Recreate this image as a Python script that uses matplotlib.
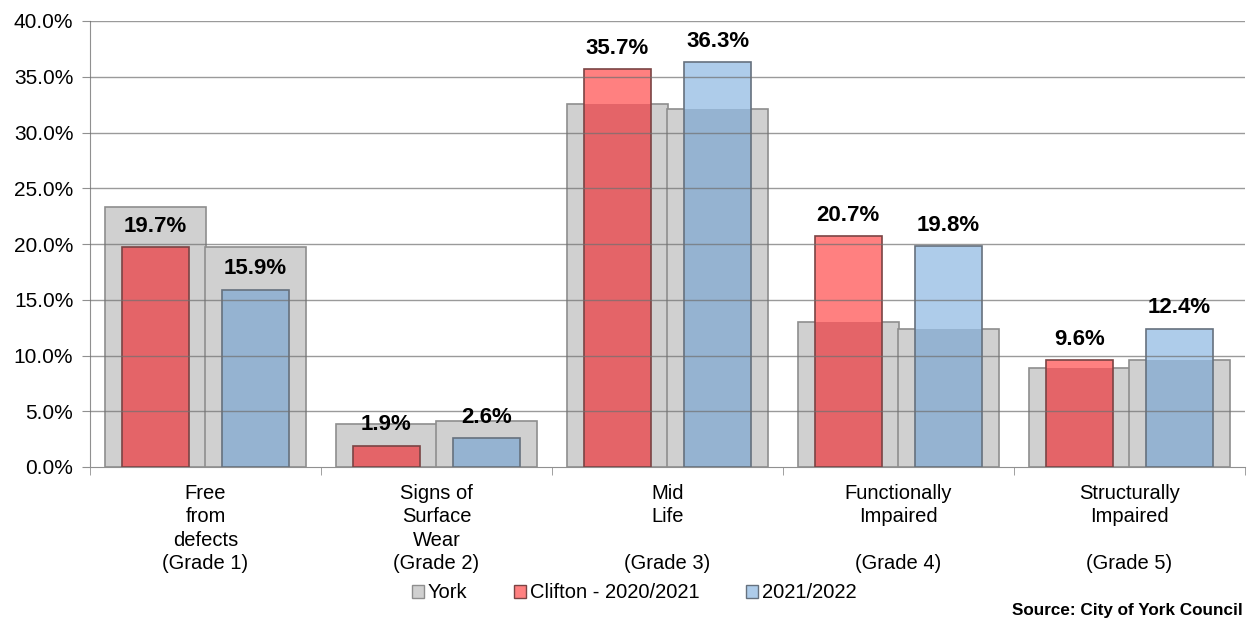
import matplotlib
matplotlib.use("Agg")
import matplotlib.pyplot as plt
import numpy as np
from matplotlib.patches import Patch

categories = ["Free\nfrom\ndefects\n(Grade 1)",
              "Signs of\nSurface\nWear\n(Grade 2)",
              "Mid\nLife\n\n(Grade 3)",
              "Functionally\nImpaired\n\n(Grade 4)",
              "Structurally\nImpaired\n\n(Grade 5)"]
york_2020 = [23.3, 3.9, 32.6, 13.0, 8.9]
york_2021 = [19.7, 4.1, 32.1, 12.4, 9.6]
clifton_2020 = [19.7, 1.9, 35.7, 20.7, 9.6]
clifton_2021 = [15.9, 2.6, 36.3, 19.8, 12.4]
yticks = [0, 5, 10, 15, 20, 25, 30, 35, 40]

plt.rcParams['font.family'] = ['Liberation Sans', 'DejaVu Sans']

fig = plt.figure(figsize=(12.47, 6.21), dpi=100)
ax = fig.add_axes([90/1247, 1-467/621, (1245-90)/1247, (467-21)/621])

x = np.arange(len(categories))
gw = 0.435
off = 0.217
cw = 0.29

grey = '#D0D0D0'; grey_e = '#8E8E8E'
red = '#FF8080'; red_ov = '#E46468'; red_e = '#7A4444'
blue = '#AECCEA'; blue_ov = '#95B3D1'; blue_e = '#66717E'

ax.bar(x - off, york_2020, gw, color=grey, edgecolor=grey_e, lw=1.2, zorder=1)
ax.bar(x + off, york_2021, gw, color=grey, edgecolor=grey_e, lw=1.2, zorder=1)

c20 = np.array(clifton_2020); c21 = np.array(clifton_2021)
ov20 = np.minimum(c20, york_2020); ov21 = np.minimum(c21, york_2021)
ax.bar(x - off, c20, cw, color=red, edgecolor='none', zorder=2)
ax.bar(x - off, ov20, cw, color=red_ov, edgecolor='none', zorder=3)
ax.bar(x - off, c20, cw, color='none', edgecolor=red_e, lw=1.2, zorder=4)
ax.bar(x + off, c21, cw, color=blue, edgecolor='none', zorder=2)
ax.bar(x + off, ov21, cw, color=blue_ov, edgecolor='none', zorder=3)
ax.bar(x + off, c21, cw, color='none', edgecolor=blue_e, lw=1.2, zorder=4)

for xi, v in zip(x - off, clifton_2020):
    ax.annotate(f"{v:.1f}%", (xi, v), xytext=(0, 15), textcoords='offset points',
                ha='center', va='center', fontsize=16, fontweight='bold', zorder=6)
for xi, v in zip(x + off, clifton_2021):
    ax.annotate(f"{v:.1f}%", (xi, v), xytext=(0, 15), textcoords='offset points',
                ha='center', va='center', fontsize=16, fontweight='bold', zorder=6)

ax.set_xlim(-0.5, 4.5)
ax.set_ylim(0, 40)
ax.set_yticks(yticks)
ax.set_yticklabels([f"{t:.1f}%" for t in yticks], fontsize=15)
for t in yticks[1:]:
    ax.axhline(t, color='#707070', lw=1, alpha=0.7, zorder=5)

ax.set_xticks(x)
ax.set_xticklabels(categories, fontsize=14.5, linespacing=1.3, va='top')
ax.tick_params(axis='x', length=0, pad=12)
ax.set_xticks(np.arange(-0.5, 5.0, 1.0), minor=True)
ax.tick_params(axis='x', which='minor', length=6, color='#909090', direction='out')
ax.tick_params(axis='y', length=6, color='#909090', direction='out', pad=6)

for s in ['top', 'right']:
    ax.spines[s].set_visible(False)
ax.spines['left'].set_color('#909090')
ax.spines['bottom'].set_color('#909090')

handles = [Patch(facecolor=grey, edgecolor=grey_e, label='York'),
           Patch(facecolor=red, edgecolor=red_e, label='Clifton - 2020/2021'),
           Patch(facecolor=blue, edgecolor=blue_e, label='2021/2022')]
fig.legend(handles=handles, loc='center', bbox_to_anchor=(634/1247, 1-593/621),
           ncol=3, frameon=False, fontsize=14.5, handlelength=0.6, handleheight=0.6,
           handletextpad=0.2, columnspacing=2.3)

fig.text(1243/1247, 1-610/621, "Source: City of York Council", fontsize=12.3,
         fontweight='bold', ha='right', va='center')

fig.savefig("out.png", dpi=100)
